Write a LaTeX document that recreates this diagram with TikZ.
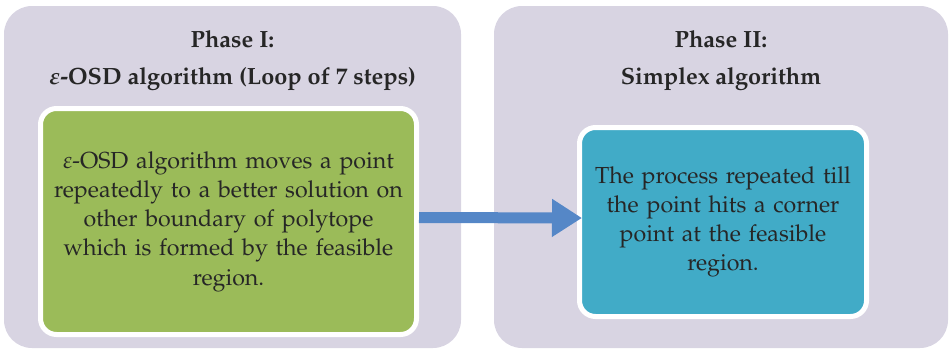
\documentclass[tikz,border=0pt]{standalone}
\usepackage[T1]{fontenc}
\usepackage{mathpazo}
\usetikzlibrary{arrows.meta, positioning}
\definecolor{phasebg}{HTML}{D8D4E2}
\definecolor{stepgreen}{HTML}{9BBB59}
\definecolor{stepteal}{HTML}{41ABC7}
\definecolor{flowblue}{HTML}{5587C7}
\definecolor{inkgray}{HTML}{262626}

\begin{document}
\begin{tikzpicture}[
    x=1pt, y=-1pt,
    phase/.style={rectangle, rounded corners=28pt, fill=phasebg, inner sep=0pt, minimum height=342pt},
    title/.style={font=\fontsize{23.5}{28}\selectfont\bfseries\boldmath, text=inkgray},
    stepbox/.style={rectangle, rounded corners=16pt, draw=white, line width=5pt, text width=#1, align=center, inner sep=0pt, font=\fontsize{23.2}{29.2}\selectfont, text=inkgray},
    flow/.style={-{Triangle[length=30pt, width=36pt]}, line width=11pt, flowblue}
]
\useasboundingbox (0,0) rectangle (949,349);

% Phase panels
\node[phase, minimum width=457pt] (ph1) at (232.5,177) {};
\node[phase, minimum width=454pt] (ph2) at (721,177) {};

% Titles
\node[title] (t1a) at (232.5,39) {Phase I:};
\node[title] (t1b) at (232.5,79) {$\varepsilon$-OSD algorithm (Loop of 7 steps)};
\node[title] (t2a) at (721,39) {Phase II:};
\node[title] (t2b) at (721,79) {Simplex algorithm};

% Steps
\node[stepbox=370pt, fill=stepgreen, minimum width=376pt, minimum height=226pt] (s1) at (228.5,221.5)
    {$\varepsilon$-OSD algorithm moves a point\\repeatedly to a better solution on\\other boundary of polytope\\which is formed by the feasible\\region.};
\node[stepbox=285pt, fill=stepteal, minimum width=287pt, minimum height=189pt] (s2) at (723,222)
    {The process repeated till\\the point hits a corner\\point at the feasible\\region.};

% Arrow
\draw[flow] ([yshift=4pt]s1.east) -- ([xshift=5pt,yshift=4pt]s2.west);
\end{tikzpicture}
\end{document}
